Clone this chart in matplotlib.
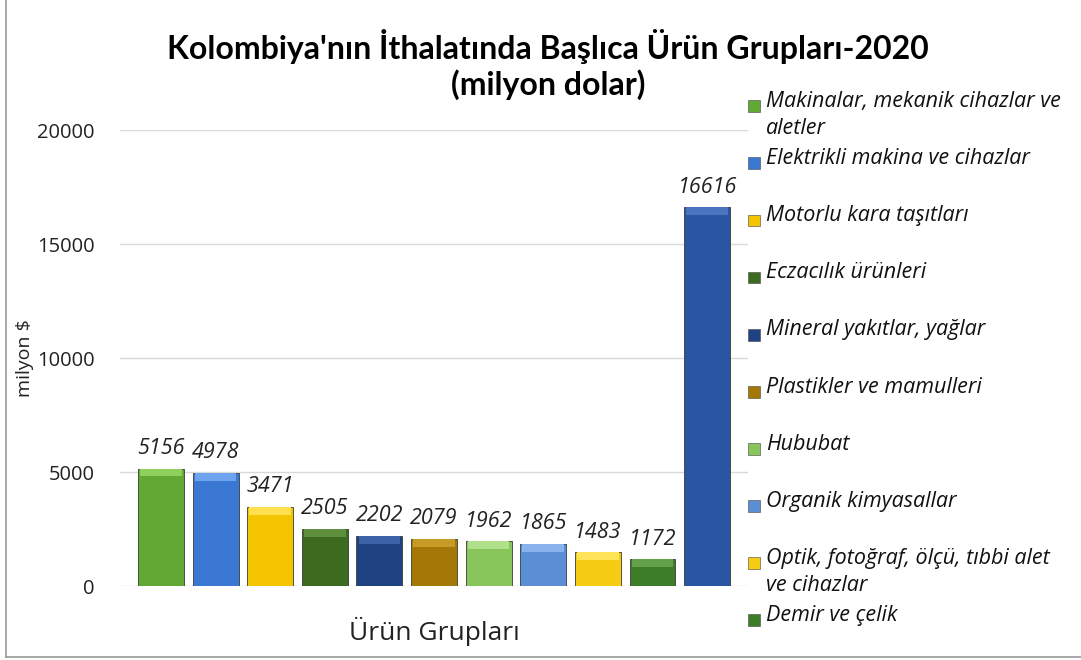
import matplotlib.pyplot as plt
from matplotlib.patches import Rectangle
from matplotlib.lines import Line2D

plt.rcParams['font.family'] = ['Open Sans', 'DejaVu Sans']

# data
categories = ["Makinalar, mekanik cihazlar ve\naletler", "Elektrikli makina ve cihazlar",
              "Motorlu kara taşıtları", "Eczacılık ürünleri", "Mineral yakıtlar, yağlar",
              "Plastikler ve mamulleri", "Hububat", "Organik kimyasallar",
              "Optik, fotoğraf, ölçü, tıbbi alet\nve cihazlar", "Demir ve çelik", "Diğer"]
values = [5156, 4978, 3471, 2505, 2202, 2079, 1962, 1865, 1483, 1172, 16616]
colors = ["#62a834", "#3b78d4", "#f5c400", "#3c6b1f", "#1f4282", "#a47806",
          "#88c65c", "#5a8fd6", "#f6cd14", "#3e7d28", "#2a55a2"]
tops = ["#8fcf5c", "#6ea3ee", "#ffe050", "#5e8f3c", "#3d62a6", "#c89a26",
        "#b0e08a", "#8ab2ec", "#ffe45a", "#63a04a", "#4a74c0"]

fig = plt.figure(figsize=(10.81, 6.6), dpi=100)
ax = fig.add_axes([0.111, 0.112, 0.581, 0.691])

x = range(len(values))
ax.bar(x, values, width=0.84, color=colors, edgecolor="#3a3a3a", linewidth=0.6, zorder=3)
band = [350] * len(values)
ax.bar(x, band, bottom=[v - b for v, b in zip(values, band)], width=0.76,
       color=tops, linewidth=0, zorder=4)

for i, v in enumerate(values):
    ax.text(i, v + 420, str(v), ha="center", va="bottom", fontsize=15.5,
            style="italic", color="#222222")

ax.set_xlim(-0.75, 10.75)
ax.set_ylim(0, 20000)
ax.set_yticks([0, 5000, 10000, 15000, 20000])
ax.tick_params(axis="y", length=0, labelsize=14.5, pad=18, labelcolor="#222222")
ax.set_xticks([])
ax.grid(axis="y", color="#d9d9d9", linewidth=1, zorder=0)
for s in ax.spines.values():
    s.set_visible(False)

ax.set_ylabel("milyon $", fontsize=14, color="#222222")
ax.yaxis.set_label_coords(-0.137, 0.5)
ax.set_xlabel("Ürün Grupları", fontsize=19, labelpad=22, color="#222222")

title_font = ["Lato", "DejaVu Sans"]
fig.text(0.507, 0.930, "Kolombiya'nın İthalatında Başlıca Ürün Grupları-2020",
         ha="center", va="center", fontsize=23, fontweight="bold", family=title_font)
fig.text(0.507, 0.872, "(milyon dolar)",
         ha="center", va="center", fontsize=23, fontweight="bold", family=title_font)

# legend drawn by hand so each entry keeps a fixed slot
for i, name in enumerate(categories[:10]):
    ytop = 0.848 - i * 0.0865
    fig.patches.append(Rectangle((0.692, ytop - 0.018), 0.011, 0.018, transform=fig.transFigure,
                                 facecolor=colors[i], edgecolor="#444444", linewidth=0.4))
    fig.text(0.709, ytop + 0.014, name, ha="left", va="top", fontsize=15.5,
             style="italic", color="#111111", linespacing=1.4)

fig.add_artist(Line2D([0.006, 0.006], [0.005, 1.0], color="#999999", linewidth=1.2))
fig.add_artist(Line2D([0.006, 1.0], [0.005, 0.005], color="#999999", linewidth=1.2))

fig.savefig("out.png", dpi=100)
